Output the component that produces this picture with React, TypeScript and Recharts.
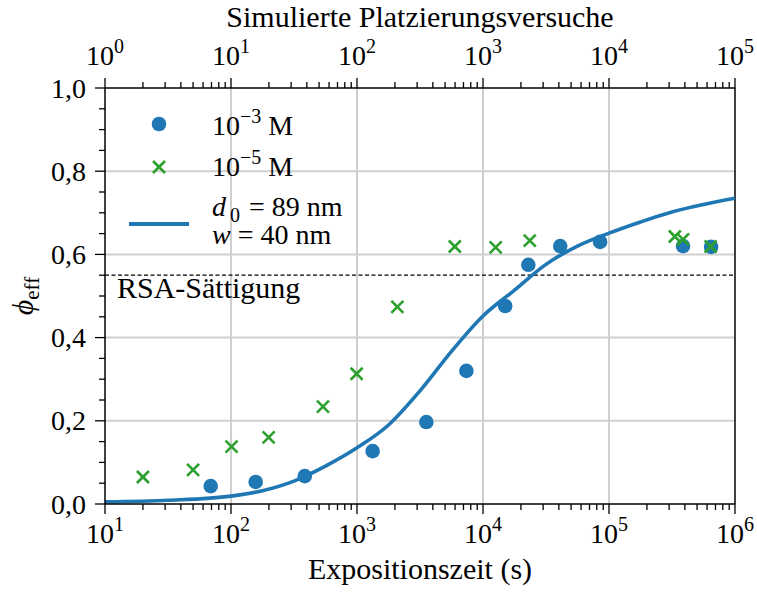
import React from 'react';
import { ComposedChart, XAxis, YAxis, Scatter, Line, ReferenceLine, Legend } from 'recharts';

// Measurements at c = 1e-3 M: exposure time (s) and effective coverage
const highConcTime = [69, 157, 385, 1330, 3550, 7380, 15000, 22900, 41000, 85000, 387000, 646000];
const highConcPhi = [0.043, 0.053, 0.067, 0.127, 0.197, 0.32, 0.476, 0.575, 0.62, 0.63, 0.62, 0.618];

// Measurements at c = 1e-5 M
const lowConcTime = [20, 50, 101, 199, 537, 993, 2090, 5970, 12600, 23500, 333000, 387000, 641000];
const lowConcPhi = [0.065, 0.082, 0.138, 0.16, 0.234, 0.313, 0.474, 0.619, 0.617, 0.633, 0.643, 0.636, 0.619];

// Simulated RSA curve (d0 = 89 nm, w = 40 nm)
const fitTime = [10, 31.6, 100, 178, 316, 562, 1000, 1780, 3160, 5620, 10000, 17800, 31600, 56200, 100000, 178000, 316000, 562000, 1000000];
const fitPhi = [0.005, 0.009, 0.019, 0.032, 0.055, 0.091, 0.135, 0.19, 0.272, 0.367, 0.452, 0.514, 0.576, 0.62, 0.651, 0.678, 0.702, 0.72, 0.735];

const saturation = 0.55;

const timeDecades = [10, 100, 1000, 10000, 100000, 1000000];
const attemptDecades = [1, 10, 100, 1000, 10000, 100000];
const phiTicks = [0, 0.2, 0.4, 0.6, 0.8, 1.0];

const seriesNames = { high: '10⁻³ M', low: '10⁻⁵ M', fit: 'd0 = 89 nm, w = 40 nm' };

const BLUE = '#1f77b4';
const GREEN = '#2ca02c';
const GRID = '#cfcfcf';
const FONT = '"Liberation Serif", "Times New Roman", serif';

const W = 757;
const H = 592;
const PLOT = { left: 105, right: 735, top: 88, bottom: 504 };

const zip = (xs: number[], ys: number[]) => xs.map((x, i) => ({ x, y: ys[i] }));
const highData = zip(highConcTime, highConcPhi);
const lowData = zip(lowConcTime, lowConcPhi);
const fitData = zip(fitTime, fitPhi);
// anchors the upper (attempts) axis so it gets a domain and is drawn
const attemptRange = attemptDecades.map((x) => ({ x, y: 0 }));

// majors plus 2..9 minors for every decade
const withMinors = (decades: number[]) => {
  const out: number[] = [];
  decades.forEach((d, i) => {
    out.push(d);
    if (i < decades.length - 1) for (let k = 2; k <= 9; k++) out.push(d * k);
  });
  return out;
};
const bottomTicks = withMinors(timeDecades);
const topTicks = withMinors(attemptDecades);
const yTicks: number[] = [];
for (let i = 0; i <= 20; i++) yTicks.push(Math.round(i * 5) / 100);

const isDecade = (v: number) => Math.abs(Math.log10(v) - Math.round(Math.log10(v))) < 1e-6;

const LogTick = (props: any) => {
  const { x, y, payload, side } = props;
  const v = payload.value as number;
  const major = isDecade(v);
  const dir = side === 'top' ? -1 : 1;
  const exp = Math.round(Math.log10(v));
  return (
    <g>
      <line x1={x} x2={x} y1={y} y2={y + dir * (major ? 10 : 6)} stroke="#000" strokeWidth={1.3} />
      {major && (
        <text x={x} y={side === 'top' ? y - 23 : y + 39} textAnchor="middle" fontFamily={FONT} fontSize={28} fill="#000">
          10<tspan dy={-12} fontSize={20}>{exp}</tspan>
        </text>
      )}
    </g>
  );
};

const PhiTick = (props: any) => {
  const { x, y, payload } = props;
  const v = payload.value as number;
  const major = Math.abs(v * 5 - Math.round(v * 5)) < 1e-6;
  return (
    <g>
      <line x1={x} x2={x - (major ? 10 : 6)} y1={y} y2={y} stroke="#000" strokeWidth={1.3} />
      {major && (
        <text x={x - 19} y={y + 9.5} textAnchor="end" fontFamily={FONT} fontSize={28} fill="#000">
          {v.toFixed(1).replace('.', ',')}
        </text>
      )}
    </g>
  );
};

const Dot = (props: any) => <circle cx={props.cx} cy={props.cy} r={7.3} fill={BLUE} />;

const Cross = (props: any) => {
  const { cx, cy } = props;
  const s = 6;
  return (
    <g stroke={GREEN} strokeWidth={2.6}>
      <line x1={cx - s} y1={cy - s} x2={cx + s} y2={cy + s} />
      <line x1={cx - s} y1={cy + s} x2={cx + s} y2={cy - s} />
    </g>
  );
};

const LegendBox = () => (
  <svg width={260} height={160} style={{ overflow: 'visible' }}>
    <g fontFamily={FONT} fontSize={28} fill="#000">
      <circle cx={49} cy={29} r={7.3} fill={BLUE} />
      <text x={102} y={40}>
        10<tspan dy={-12} fontSize={20}>−3</tspan>
        <tspan dy={12} dx={7}>M</tspan>
      </text>
      <Cross cx={49} cy={72} />
      <text x={102} y={81}>
        10<tspan dy={-12} fontSize={20}>−5</tspan>
        <tspan dy={12} dx={7}>M</tspan>
      </text>
      <line x1={19} x2={79} y1={129} y2={129} stroke={BLUE} strokeWidth={4} />
      <text x={102} y={121} fontStyle="italic">d</text>
      <text x={120} y={127} fontSize={20}>0</text>
      <text x={139} y={121}>= 89 nm</text>
      <text x={102} y={149}>
        <tspan fontStyle="italic">w</tspan> = 40 nm
      </text>
    </g>
  </svg>
);

const midX = (PLOT.left + PLOT.right) / 2;
const midY = (PLOT.top + PLOT.bottom) / 2;

export default function App() {
  return (
    <div style={{ position: 'absolute', left: 0, top: 0, width: W, height: H, background: '#fff' }}>
      <ComposedChart width={W} height={H} margin={{ top: 0, right: W - PLOT.right, bottom: 0, left: 0 }}>
        <XAxis
          xAxisId="bottom"
          dataKey="x"
          type="number"
          scale="log"
          domain={[timeDecades[0], timeDecades[timeDecades.length - 1]]}
          allowDataOverflow
          ticks={bottomTicks}
          interval={0}
          tickSize={0}
          tickMargin={0}
          tickLine={false}
          tick={(p: any) => <LogTick {...p} side="bottom" />}
          height={H - PLOT.bottom}
          axisLine={{ stroke: '#000', strokeWidth: 1.5 }}
          label={{
            content: () => (
              <text x={midX} y={579} textAnchor="middle" fontFamily={FONT} fontSize={30} fill="#000">
                Expositionszeit (s)
              </text>
            ),
          }}
        />
        <XAxis
          xAxisId="top"
          dataKey="x"
          orientation="top"
          type="number"
          scale="log"
          domain={[attemptDecades[0], attemptDecades[attemptDecades.length - 1]]}
          allowDataOverflow
          ticks={topTicks}
          interval={0}
          tickSize={0}
          tickMargin={0}
          tickLine={false}
          tick={(p: any) => <LogTick {...p} side="top" />}
          height={PLOT.top}
          axisLine={{ stroke: '#000', strokeWidth: 1.5 }}
          label={{
            content: () => (
              <text x={midX} y={27} textAnchor="middle" fontFamily={FONT} fontSize={30} fill="#000">
                Simulierte Platzierungsversuche
              </text>
            ),
          }}
        />
        <YAxis
          dataKey="y"
          type="number"
          domain={[0, 1]}
          allowDataOverflow
          ticks={yTicks}
          interval={0}
          tickSize={0}
          tickMargin={0}
          tickLine={false}
          tick={(p: any) => <PhiTick {...p} />}
          width={PLOT.left}
          axisLine={{ stroke: '#000', strokeWidth: 1.5 }}
          label={{
            content: () => (
              <text x={33} y={midY} transform={`rotate(-90, 33, ${midY})`} textAnchor="middle" fontFamily={FONT} fontSize={30} fill="#000">
                <tspan fontStyle="italic">ϕ</tspan>
                <tspan dy={6} fontSize={21}>eff</tspan>
              </text>
            ),
          }}
        />

        {timeDecades.slice(1, -1).map((v) => (
          <ReferenceLine key={`gx${v}`} xAxisId="bottom" x={v} stroke={GRID} strokeWidth={2} />
        ))}
        {phiTicks.slice(1, -1).map((v) => (
          <ReferenceLine key={`gy${v}`} xAxisId="bottom" y={v} stroke={GRID} strokeWidth={2} />
        ))}
        <ReferenceLine xAxisId="bottom" x={timeDecades[timeDecades.length - 1]} stroke="#000" strokeWidth={1.5} />
        <ReferenceLine
          xAxisId="bottom"
          y={saturation}
          stroke="#000"
          strokeWidth={1.2}
          strokeDasharray="4 2.5"
          label={{
            content: (p: any) => (
              <text x={117} y={(p.viewBox?.y ?? 275) + 23} fontFamily={FONT} fontSize={30} fill="#000">
                RSA-Sättigung
              </text>
            ),
          }}
        />

        <Line
          xAxisId="top"
          data={attemptRange}
          dataKey="y"
          stroke="none"
          dot={false}
          activeDot={false}
          legendType="none"
          isAnimationActive={false}
        />
        <Scatter name={seriesNames.high} xAxisId="bottom" data={highData} shape={Dot} isAnimationActive={false} />
        <Scatter name={seriesNames.low} xAxisId="bottom" data={lowData} shape={Cross} isAnimationActive={false} />
        <Line
          name={seriesNames.fit}
          xAxisId="bottom"
          data={fitData}
          dataKey="y"
          type="monotone"
          stroke={BLUE}
          strokeWidth={3.6}
          dot={false}
          activeDot={false}
          isAnimationActive={false}
        />
        <Legend
          layout="vertical"
          align="center"
          verticalAlign="middle"
          wrapperStyle={{ left: 110, top: 95, width: 260, height: 160 }}
          content={() => <LegendBox />}
        />
      </ComposedChart>
    </div>
  );
}
